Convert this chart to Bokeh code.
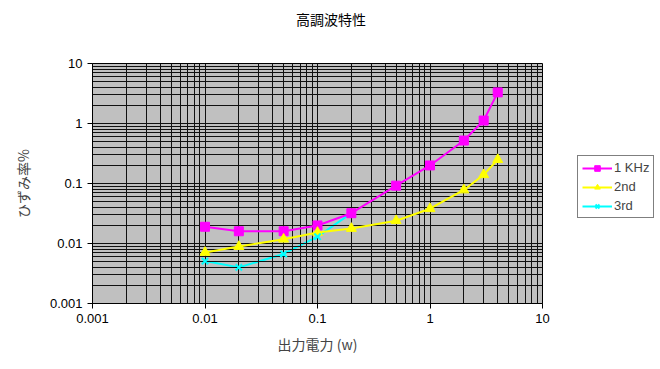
from bokeh.plotting import figure
from bokeh.layouts import row, column
from bokeh.models import FixedTicker, CustomJSTickFormatter, Legend, LegendItem, Range1d, Div
from bokeh.embed import file_html
from bokeh.resources import INLINE

power = [0.01, 0.02, 0.05, 0.1, 0.2, 0.5, 1, 2, 3, 4]
khz1 = [0.019, 0.016, 0.016, 0.020, 0.032, 0.092, 0.20, 0.52, 1.12, 3.3]
nd2 = [0.0071, 0.0089, 0.0118, 0.0153, 0.0178, 0.024, 0.038, 0.078, 0.14, 0.25]
rd3 = [0.0051, 0.0040, 0.0067, 0.013, 0.032, 0.092, 0.20, 0.52, 1.12, 3.3]
series_names = ["1 KHz", "2nd", "3rd"]
major = [0.001, 0.01, 0.1, 1, 10]
title_text = "高調波特性"

minor = [m * d for d in [0.001, 0.01, 0.1, 1] for m in range(2, 10)]

title_div = Div(text=title_text, width=660, height=36,
                styles={"font-family": "'Noto Sans CJK JP'", "font-size": "14px",
                        "line-height": "20px", "padding-top": "4px", "padding-left": "291px",
                        "color": "black"})

p = figure(width=577, height=323, x_axis_type="log", y_axis_type="log",
           x_range=Range1d(0.001, 10), y_range=Range1d(0.001, 10),
           output_backend="svg", toolbar_location=None,
           min_border_left=92, min_border_right=35, min_border_top=17, min_border_bottom=66)

p.background_fill_color = "#C0C0C0"
p.border_fill_color = "white"
p.outline_line_color = "black"

fmt = CustomJSTickFormatter(code="return Number(tick.toPrecision(1)).toString();")
for ax in (p.xaxis[0], p.yaxis[0]):
    ax.ticker = FixedTicker(ticks=major, minor_ticks=minor)
    ax.formatter = fmt
    ax.major_label_text_font = "Liberation Sans"
    ax.major_label_text_font_size = "13px"
    ax.major_label_text_color = "black"
    ax.axis_line_color = "black"
    ax.major_tick_line_color = "black"
    ax.major_tick_out = 5
    ax.major_tick_in = 0
    ax.minor_tick_out = 0
    ax.minor_tick_in = 0
    ax.axis_label_text_font = "Noto Sans CJK JP"
    ax.axis_label_text_font_size = "14px"
    ax.axis_label_text_font_style = "normal"

p.xaxis.axis_label = "出力電力 (w)"
p.yaxis.axis_label = "ひずみ率%"
p.xaxis.axis_label_standoff = 8
p.yaxis.axis_label_standoff = 14

for g in (p.xgrid[0], p.ygrid[0]):
    g.ticker = FixedTicker(ticks=major, minor_ticks=minor)
    g.grid_line_color = "#111111"
    g.grid_line_width = 1
    g.minor_grid_line_color = "#111111"
    g.minor_grid_line_width = 1

series = [khz1, nd2, rd3]
styles = [
    dict(color="#FF00FF", marker="square", size=9, lw=1),
    dict(color="#FFFF00", marker="triangle", size=10, lw=1),
    dict(color="#00FFFF", marker="x", size=9, lw=2),
]

p.line(power, khz1, line_color="#FF00FF", line_width=2)
p.scatter(power, khz1, marker="square", size=9, fill_color="#FF00FF", line_color="#FF00FF")
p.line(power, nd2, line_color="#FFFF00", line_width=2)
p.scatter(power, nd2, marker="triangle", size=10, fill_color="#FFFF00", line_color="#FFFF00")
p.line(power[:5], rd3[:5], line_color="#00FFFF", line_width=2, level="underlay")
p.scatter(power[:4], rd3[:4], marker="x", size=9, line_color="#00FFFF", line_width=2)

# legend panel (series drawn off-screen there, only used for legend swatches)
lg = figure(width=83, height=323, x_range=Range1d(100, 101), y_range=Range1d(100, 101),
            output_backend="svg", toolbar_location=None,
            min_border_left=0, min_border_right=0, min_border_top=0, min_border_bottom=0)
lg.axis.visible = False
lg.grid.visible = False
lg.outline_line_color = None
lg.background_fill_color = "white"
items = []
for name, ys, st in zip(series_names, series, styles):
    lr = lg.line(power, ys, line_color=st["color"], line_width=2)
    sr = lg.scatter(power, ys, marker=st["marker"], size=st["size"], fill_color=st["color"],
                    line_color=st["color"], line_width=st["lw"])
    items.append(LegendItem(label=name, renderers=[lr, sr]))

legend = Legend(items=items, location=(0, 85))
legend.border_line_color = "black"
legend.border_line_width = 1
legend.background_fill_color = "white"
legend.background_fill_alpha = 1
legend.label_text_font = "Liberation Sans"
legend.label_text_font_size = "13px"
legend.glyph_width = 30
legend.glyph_height = 14
legend.spacing = 4
legend.padding = 4
legend.margin = 0
legend.label_standoff = 2
lg.add_layout(legend, "center")

layout = column(title_div, row(p, lg, spacing=0), spacing=0)
open("out.html", "w").write(file_html(layout, INLINE))
